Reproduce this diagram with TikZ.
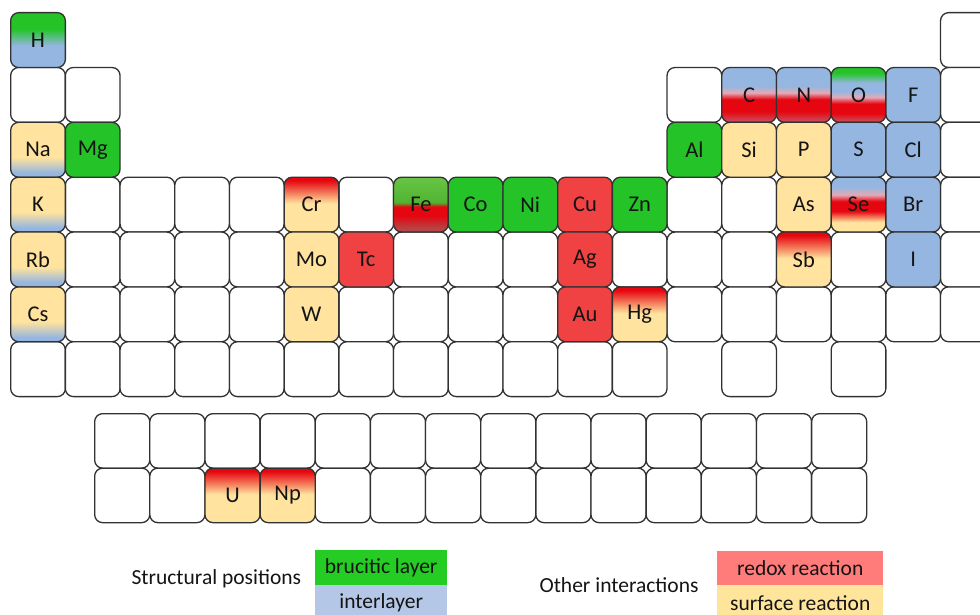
\documentclass[tikz,border=0pt]{standalone}
\usepackage{fontspec}
\setmainfont{Carlito}
\definecolor{cgreen}{RGB}{36,196,40}
\definecolor{cblue}{RGB}{149,182,224}
\definecolor{cred}{RGB}{240,66,66}
\definecolor{cyellow}{RGB}{255,227,158}
\definecolor{cred2}{RGB}{230,6,16}
\definecolor{cpinkish}{RGB}{228,170,182}
\definecolor{crose}{RGB}{205,70,82}
\definecolor{cbrown}{RGB}{180,70,70}
\definecolor{cfeA}{RGB}{105,196,70}
\definecolor{cfeB}{RGB}{80,180,50}
\definecolor{lgreen}{RGB}{36,204,36}
\definecolor{lblue}{RGB}{180,199,231}
\definecolor{lred}{RGB}{255,124,122}
\definecolor{lyellow}{RGB}{255,228,156}
\definecolor{cellline}{RGB}{50,50,50}
\definecolor{txt}{RGB}{20,20,20}
% vertical shadings: 25bp = bottom of cell, 75bp = top of cell
\pgfdeclareverticalshading{shH}{100bp}{color(0bp)=(cblue); color(45bp)=(cblue); color(60bp)=(cgreen); color(100bp)=(cgreen)}
\pgfdeclareverticalshading{shAlk}{100bp}{color(0bp)=(cblue); color(29bp)=(cblue); color(43bp)=(cyellow); color(100bp)=(cyellow)}
\pgfdeclareverticalshading{shCN}{100bp}{color(0bp)=(crose); color(27bp)=(crose); color(35bp)=(cred2); color(46bp)=(cred2); color(52bp)=(cpinkish); color(58bp)=(cblue); color(100bp)=(cblue)}
\pgfdeclareverticalshading{shO}{100bp}{color(0bp)=(crose); color(27bp)=(crose); color(33bp)=(cred2); color(42bp)=(cred2); color(48bp)=(cpinkish); color(53bp)=(cblue); color(61bp)=(cblue); color(70bp)=(cgreen); color(100bp)=(cgreen)}
\pgfdeclareverticalshading{shSe}{100bp}{color(0bp)=(cyellow); color(34bp)=(cyellow); color(44bp)=(cred2); color(53bp)=(cred2); color(59bp)=(cpinkish); color(66bp)=(cblue); color(100bp)=(cblue)}
\pgfdeclareverticalshading{shFe}{100bp}{color(0bp)=(cbrown); color(28bp)=(cbrown); color(40bp)=(cred2); color(48bp)=(cred2); color(52bp)=(cfeB); color(75bp)=(cfeA); color(100bp)=(cfeA)}
\pgfdeclareverticalshading{shRY}{100bp}{color(0bp)=(cyellow); color(51bp)=(cyellow); color(72bp)=(cred2); color(100bp)=(cred2)}
\newcommand\pcell[5]{\node[cell,#5] (#1) at ({10+(#3-1)*54.7},{12+(#2-1)*54.85}) {#4};}
\begin{document}
\begin{tikzpicture}[x=1pt,y=-1pt,
  cell/.style={draw=cellline, line width=1.3pt, rounded corners=8pt,
    minimum width=54.7pt, minimum height=54.85pt, inner sep=0pt,
    anchor=north west, text=txt, font=\fontsize{22.5}{26}\selectfont},
  fcell/.style={cell, minimum width=55.1pt, minimum height=54.5pt},
  sh/.style={shade, shading=#1},
  legtext/.style={anchor=west, text=txt, font=\fontsize{21.5}{25}\selectfont},
  legbox/.style={anchor=north west, inner sep=0pt, minimum width=#1, text=txt, font=\fontsize{21.5}{25}\selectfont}]
\useasboundingbox (0,0) rectangle (980,615);
\clip (0,0) rectangle (980,615);
% empty cells of the main table
\foreach \r/\c in {1/18, 2/1, 2/2, 2/13, 2/18, 3/18,
  4/2, 4/3, 4/4, 4/5, 4/7, 4/13, 4/14, 4/18,
  5/2, 5/3, 5/4, 5/5, 5/8, 5/9, 5/10, 5/12, 5/13, 5/14, 5/16, 5/18,
  6/2, 6/3, 6/4, 6/5, 6/7, 6/8, 6/9, 6/10, 6/13, 6/14, 6/15, 6/16, 6/17, 6/18,
  7/1, 7/2, 7/3, 7/4, 7/5, 7/6, 7/7, 7/8, 7/9, 7/10, 7/11, 7/12, 7/14, 7/16}
  {\pcell{e-\r-\c}{\r}{\c}{}{fill=white}}
% coloured cells
\pcell{H}{1}{1}{H}{sh=shH}
\pcell{C}{2}{14}{C}{sh=shCN}
\pcell{N}{2}{15}{N}{sh=shCN}
\pcell{O}{2}{16}{O}{sh=shO}
\pcell{F}{2}{17}{F}{fill=cblue}
\pcell{Na}{3}{1}{Na}{sh=shAlk}
\pcell{Mg}{3}{2}{Mg}{fill=cgreen}
\pcell{Al}{3}{13}{Al}{fill=cgreen}
\pcell{Si}{3}{14}{Si}{fill=cyellow}
\pcell{P}{3}{15}{P}{fill=cyellow}
\pcell{S}{3}{16}{S}{fill=cblue}
\pcell{Cl}{3}{17}{Cl}{fill=cblue}
\pcell{K}{4}{1}{K}{sh=shAlk}
\pcell{Cr}{4}{6}{Cr}{sh=shRY}
\pcell{Fe}{4}{8}{Fe}{sh=shFe}
\pcell{Co}{4}{9}{Co}{fill=cgreen}
\pcell{Ni}{4}{10}{Ni}{fill=cgreen}
\pcell{Cu}{4}{11}{Cu}{fill=cred}
\pcell{Zn}{4}{12}{Zn}{fill=cgreen}
\pcell{As}{4}{15}{As}{fill=cyellow}
\pcell{Se}{4}{16}{Se}{sh=shSe}
\pcell{Br}{4}{17}{Br}{fill=cblue}
\pcell{Rb}{5}{1}{Rb}{sh=shAlk}
\pcell{Mo}{5}{6}{Mo}{fill=cyellow}
\pcell{Tc}{5}{7}{Tc}{fill=cred}
\pcell{Ag}{5}{11}{Ag}{fill=cred}
\pcell{Sb}{5}{15}{Sb}{sh=shRY}
\pcell{I}{5}{17}{I}{fill=cblue}
\pcell{Cs}{6}{1}{Cs}{sh=shAlk}
\pcell{W}{6}{6}{W}{fill=cyellow}
\pcell{Au}{6}{11}{Au}{fill=cred}
\pcell{Hg}{6}{12}{Hg}{sh=shRY}
% f-block
\foreach \c in {1,...,14}
  {\node[fcell, fill=white] (fa-\c) at ({94+(\c-1)*55.15},413) {};}
\foreach \c in {1,2,5,6,7,8,9,10,11,12,13,14}
  {\node[fcell, fill=white] (fb-\c) at ({94+(\c-1)*55.15},467.5) {};}
\node[fcell, sh=shRY] (U) at ({94+2*55.15},467.5) {U};
\node[fcell, sh=shRY] (Np) at ({94+3*55.15},467.5) {Np};
% legend
\node[legtext] (lsp) at (128,579) {Structural positions};
\node[legbox=132pt, minimum height=35pt, fill=lgreen] (lbru) at (315,550) {brucitic layer};
\node[legbox=132pt, minimum height=36pt, fill=lblue] (lint) at (315,585) {interlayer};
\node[legtext] (loi) at (536,585) {Other interactions};
\node[legbox=166pt, minimum height=34pt, fill=lred] (lred) at (717,551) {redox reaction};
\node[legbox=166pt, minimum height=36pt, fill=lyellow] (lsur) at (717,585) {surface reaction};
\end{tikzpicture}
\end{document}
